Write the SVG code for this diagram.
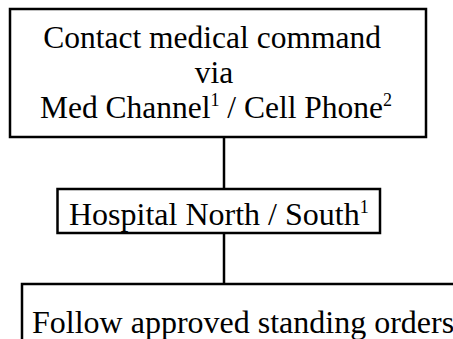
<svg xmlns="http://www.w3.org/2000/svg" width="453" height="339" viewBox="0 0 453 339">
  <style>
    .box { fill: #ffffff; stroke: #000000; stroke-width: 2.5; }
    .link { stroke: #000000; stroke-width: 2.5; fill: none; }
    .label { font-family: "Liberation Serif", "Times New Roman", serif; font-size: 32px; fill: #000000; }
    .stack { font-size: 31.5px; }
    .sup { font-size: 18px; }
  </style>
  <rect width="453" height="339" fill="#ffffff"/>
  <g id="connectors">
    <line class="link" x1="224" y1="137" x2="224" y2="189"/>
    <line class="link" x1="224" y1="233" x2="224" y2="284"/>
  </g>
  <g id="contact-medical-command">
    <rect class="box" x="10" y="9" width="416" height="128"/>
    <text class="label stack" text-anchor="middle">
      <tspan x="216" y="48">Contact medical command</tspan>
      <tspan x="218" y="83">via</tspan>
      <tspan x="216" y="118">Med Channel<tspan class="sup" dy="-12">1</tspan><tspan dy="12"> / Cell Phone</tspan><tspan class="sup" dy="-12">2</tspan></tspan>
    </text>
  </g>
  <g id="hospital">
    <rect class="box" x="57.5" y="189" width="322.5" height="44"/>
    <text class="label" x="69" y="225">Hospital North / South<tspan class="sup" dy="-12">1</tspan></text>
  </g>
  <g id="standing-orders">
    <rect class="box" x="22" y="284" width="440" height="70"/>
    <text class="label" x="32" y="333">Follow approved standing orders</text>
  </g>
</svg>
